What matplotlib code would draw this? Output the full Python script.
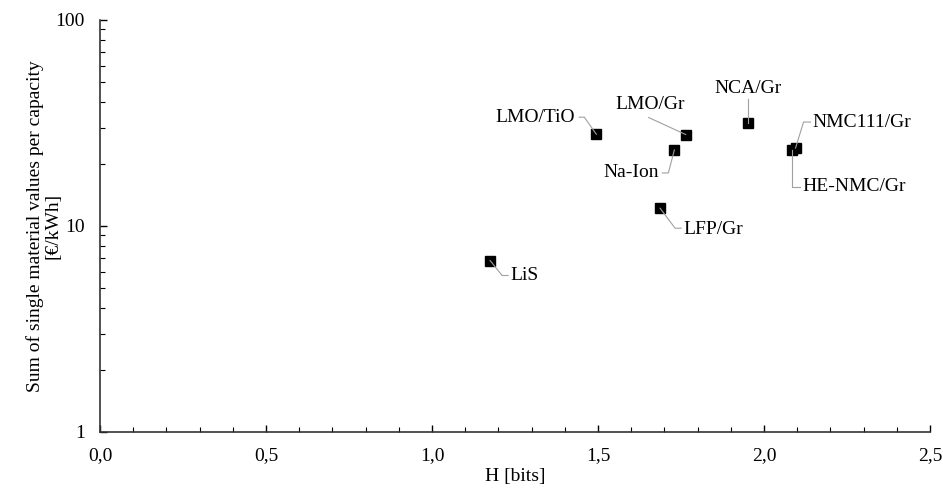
import matplotlib
matplotlib.use("Agg")
import matplotlib.pyplot as plt
from matplotlib.lines import Line2D
from matplotlib.ticker import FixedLocator, NullFormatter, LogLocator

plt.rcParams['font.family'] = ['Liberation Serif', 'DejaVu Serif']

# ---- data ----
names = ["LiS", "LMO/TiO", "LMO/Gr", "Na-Ion", "LFP/Gr", "NCA/Gr", "NMC111/Gr", "HE-NMC/Gr"]
h_bits = [1.175, 1.495, 1.764, 1.730, 1.687, 1.953, 2.095, 2.085]
cost = [6.8, 27.9, 27.8, 23.4, 12.2, 31.5, 23.9, 23.4]

x_ticks = [0.0, 0.5, 1.0, 1.5, 2.0, 2.5]
x_tick_labels = ["0,0", "0,5", "1,0", "1,5", "2,0", "2,5"]
y_ticks = [1, 10, 100]
y_tick_labels = ["1", "10", "100"]

# label placement (pixel offsets, screen y-down): text anchor, alignment, leader vertices
label_style = {
    "LiS":       dict(text=(20, 15), ha="left",   leader=[(0, 0), (12, 15), (18, 15)]),
    "LMO/TiO":   dict(text=(-21, -17), ha="right", leader=[(0, 0), (-12, -17), (-17, -17)]),
    "LMO/Gr":    dict(text=(-36, -30), ha="center", leader=[(0, 0), (-37, -17)]),
    "Na-Ion":    dict(text=(-15, 23), ha="right", leader=[(0, 0), (-6, 23), (-12, 23)]),
    "LFP/Gr":    dict(text=(23, 21), ha="left",   leader=[(0, 0), (15, 20), (21, 20)]),
    "NCA/Gr":    dict(text=(0, -35), ha="center", leader=[(0, 0), (0, -24)]),
    "NMC111/Gr": dict(text=(17, -26), ha="left",  leader=[(0, 0), (8, -26), (15, -26)]),
    "HE-NMC/Gr": dict(text=(10, 37), ha="left",   leader=[(0, 0), (0, 37), (8, 37)]),
}

fig = plt.figure(figsize=(9.43, 4.88), dpi=100)
ax = fig.add_axes([100 / 943, 1 - 432 / 488, 830 / 943, 412 / 488])

ax.plot(h_bits, cost, linestyle="none", marker="s", markersize=6.5,
        color="black", zorder=3, clip_on=False)

ax.set_xscale("linear")
ax.set_yscale("log")
ax.set_xlim(0, 2.5)
ax.set_ylim(1, 100)

ax.set_xticks(x_ticks)
ax.set_xticklabels(x_tick_labels)
ax.xaxis.set_minor_locator(FixedLocator([i / 10 for i in range(0, 26)]))
ax.set_yticks(y_ticks)
ax.set_yticklabels(y_tick_labels)
ax.yaxis.set_minor_locator(LogLocator(base=10, subs=range(2, 10)))
ax.yaxis.set_minor_formatter(NullFormatter())

ax.tick_params(axis="both", which="major", direction="in", length=5, width=1,
               labelsize=14, color="black")
ax.tick_params(axis="both", which="minor", direction="in", length=3.5, width=0.8,
               color="black")
ax.tick_params(axis="x", which="major", pad=11)
ax.tick_params(axis="y", which="major", pad=11)

for s in ["top", "right"]:
    ax.spines[s].set_visible(False)
for s in ["left", "bottom"]:
    ax.spines[s].set_color("#333333")
    ax.spines[s].set_linewidth(1.2)

ax.set_xlabel("H [bits]", fontsize=14, labelpad=3)
ax.set_ylabel("Sum of single material values per capacity\n[€/kWh]", fontsize=14,
              linespacing=1.05)
ax.yaxis.set_label_coords(-0.046, 0.5)

# labels and leader lines
fig.canvas.draw()
for n, xv, yv in zip(names, h_bits, cost):
    st = label_style[n]
    px, py = ax.transData.transform((xv, yv))
    xs = [px + dx for dx, dy in st["leader"]]
    ys = [py - dy for dx, dy in st["leader"]]
    fig.add_artist(Line2D(xs, ys, transform=None, color="#a0a0a0", linewidth=0.8, zorder=4))
    tx, ty = st["text"]
    ax.annotate(n, xy=(xv, yv), xytext=(tx * 0.72, -ty * 0.72), textcoords="offset points",
                ha=st["ha"], va="center", fontsize=14, zorder=5)

fig.savefig("out.png", dpi=100)
